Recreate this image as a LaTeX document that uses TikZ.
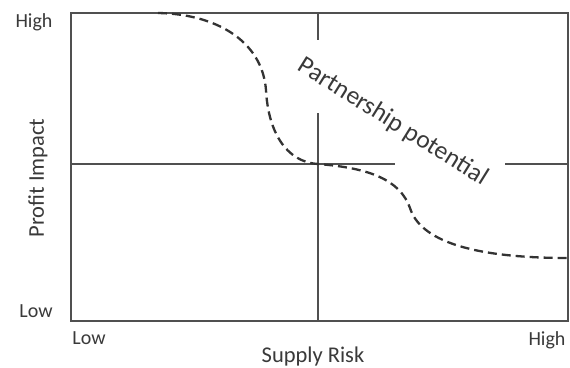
\documentclass[tikz,border=0pt]{standalone}
\usepackage{fontspec}
\setmainfont{Carlito}
\definecolor{axisgray}{HTML}{505050}
\definecolor{txtgray}{HTML}{3A3A3A}
\definecolor{curvegray}{HTML}{333333}
\begin{document}
\begin{tikzpicture}[x=1pt,y=-1pt,
  frame/.style={draw=axisgray,line width=2pt},
  grid/.style={draw=axisgray,line width=1.6pt},
  curve/.style={draw=curvegray,line width=2.3pt,dash pattern=on 9pt off 5pt},
  tick/.style={text=txtgray,font=\fontsize{20}{22}\selectfont,inner sep=0pt},
  title/.style={text=txtgray,font=\fontsize{22.5}{24}\selectfont,inner sep=0pt},
  big/.style={text=txtgray,font=\fontsize{25.5}{27}\selectfont,inner sep=0pt}]
\useasboundingbox (0,0) rectangle (570,367);
\fill[white] (0,0) rectangle (570,367);
% frame corners
\coordinate (tl) at (71,13);
\coordinate (br) at (568,321);
\draw[frame] (tl) rectangle (br);
% quadrant lines
\coordinate (hl) at (71,164);
\coordinate (hm1) at (395,164);
\coordinate (hm2) at (505,164);
\coordinate (hr) at (568,164);
\coordinate (vt) at (318,13);
\coordinate (vm1) at (318,40);
\coordinate (vm2) at (318,113);
\coordinate (vb) at (318,321);
\draw[grid] (hl) -- (hm1);
\draw[grid] (hm2) -- (hr);
\draw[grid] (vt) -- (vm1);
\draw[grid] (vm2) -- (vb);
% dashed curve
\coordinate (c0) at (158,13);
\coordinate (c1) at (266,90);
\coordinate (c2) at (318,164);
\coordinate (c3) at (410,208);
\coordinate (c4) at (568,258);
\draw[curve] (c0) .. controls (215,14) and (262,40) .. (c1)
  .. controls (268,130) and (285,162) .. (c2)
  .. controls (370,168) and (400,180) .. (c3)
  .. controls (420,240) and (470,258) .. (c4);
% labels
\node[big,rotate=-32] (pp) at (393,122) {Partnership potential};
\node[tick] (yhigh) at (34,22) {High};
\node[tick] (ylow) at (36,311) {Low};
\node[title,rotate=90] (ytitle) at (38,178) {Profit Impact};
\node[tick] (xlow) at (89,338) {Low};
\node[tick] (xhigh) at (547,340) {High};
\node[title] (xtitle) at (313,356) {Supply Risk};
\end{tikzpicture}
\end{document}
